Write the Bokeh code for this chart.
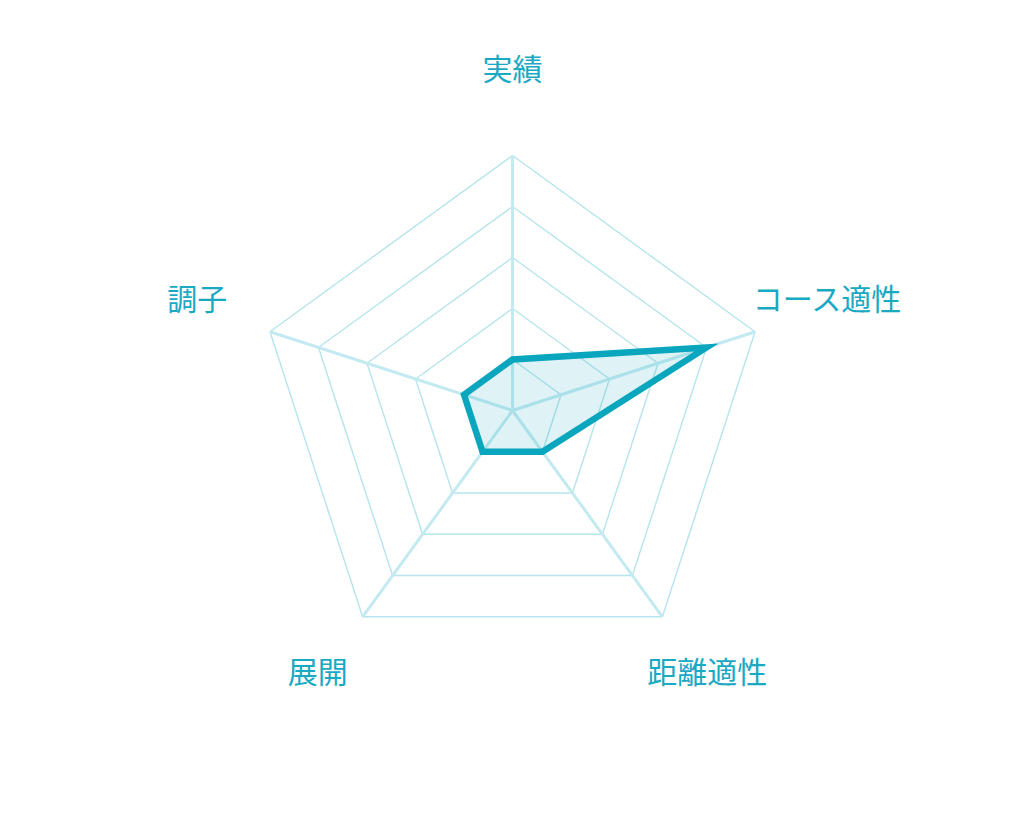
import numpy as np
from bokeh.plotting import figure
from bokeh.models import ColumnDataSource
from bokeh.core.properties import value
from bokeh.embed import file_html
from bokeh.resources import INLINE

# ---- data ----
categories = ["実績", "コース適性", "距離適性", "展開", "調子"]
scores = [1, 4, 1, 1, 1]
max_score = 5
ring_levels = [1, 2, 3, 4, 5]

# ---- geometry (unit radius = outer ring) ----
n = len(categories)
angles = np.pi / 2 - 2 * np.pi * np.arange(n) / n
cosA, sinA = np.cos(angles), np.sin(angles)

W, H = 1008, 804
R_PX = 255.0
cx_px, cy_px = 512.0, 410.0
p = figure(width=W, height=H, output_backend="svg", toolbar_location=None,
           x_range=(-cx_px / R_PX, (W - cx_px) / R_PX),
           y_range=(-(H - cy_px) / R_PX, cy_px / R_PX),
           min_border=0)
p.axis.visible = False
p.grid.visible = False
p.outline_line_color = None
p.background_fill_color = "white"
p.border_fill_color = "white"

# rings
ring_xs, ring_ys = [], []
for lv in ring_levels:
    r = lv / max_score
    ring_xs.append(list(np.append(r * cosA, r * cosA[0])))
    ring_ys.append(list(np.append(r * sinA, r * sinA[0])))
p.multi_line(ring_xs, ring_ys, line_color="#b6e4ec", line_width=1.4)

# spokes
p.segment(x0=np.zeros(n), y0=np.zeros(n), x1=cosA, y1=sinA,
          line_color="#c3eaf1", line_width=3)

# data polygon
vals = np.array(scores) / max_score
dx = vals * cosA
dy = vals * sinA
p.patch(list(dx), list(dy), fill_color="#0aa6bd", fill_alpha=0.13, line_color=None)

# outline as a mitered band (polygon with hole) so sharp corners keep their miter
def offset_poly(px, py, d):
    P = np.column_stack([px, py])
    E = np.roll(P, -1, axis=0) - P
    L = np.hypot(E[:, 0], E[:, 1])[:, None]
    T = E / L
    N = np.column_stack([T[:, 1], -T[:, 0]])  # right-hand normal (outward for clockwise)
    Nprev = np.roll(N, 1, axis=0)
    s = Nprev + N
    k = 1.0 + np.sum(Nprev * N, axis=1)
    Q = P + d * s / k[:, None]
    return list(Q[:, 0]), list(Q[:, 1])

half_w = 3.2 / R_PX
ox, oy = offset_poly(dx, dy, half_w)
ix, iy = offset_poly(dx, dy, -half_w)
p.multi_polygons(xs=[[[ox, ix]]], ys=[[[oy, iy]]],
                 fill_color="#0aa6bd", line_color=None)

# labels
LR = 1.30
lab = ColumnDataSource(dict(x=LR * cosA, y=LR * sinA, t=categories,
                            yo=-(10.0 + 2.0 * sinA)))
p.text(x="x", y="y", text="t", source=lab, y_offset="yo", text_align="center",
       text_baseline="middle", text_color="#19a9c2", text_font_size="30px",
       text_font=value("Noto Sans CJK JP"))

open("out.html", "w").write(file_html(p, INLINE))
